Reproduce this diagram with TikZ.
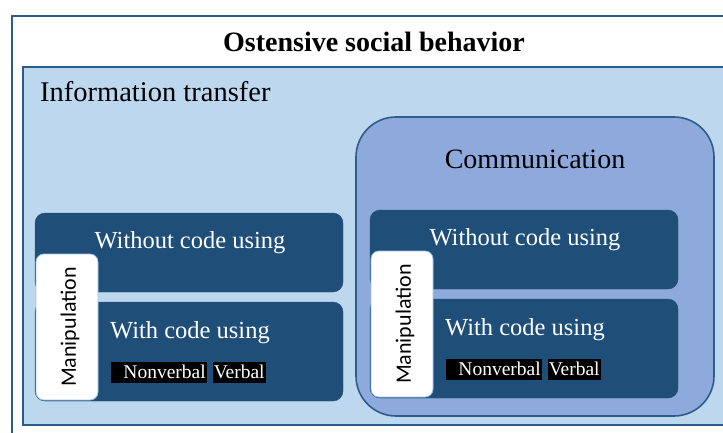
\documentclass[tikz,border=0pt]{standalone}
\usepackage{fontspec}
\setmainfont{Liberation Serif}
\newfontfamily\manipfont{Carlito}
\usetikzlibrary{positioning}
\definecolor{edgeblue}{HTML}{2E5C8A}
\definecolor{infoblue}{HTML}{BDD7EE}
\definecolor{commblue}{HTML}{8EA9DB}
\definecolor{darkblue}{HTML}{1F4E79}
\definecolor{manipedge}{HTML}{9DC3E6}
\tikzset{
    frame/.style={draw=edgeblue, line width=1.6pt},
    codebox/.style={fill=darkblue, draw=darkblue, rounded corners=10pt},
    manipbox/.style={fill=white, draw=manipedge, line width=0.8pt, rounded corners=8pt},
    boxtext/.style={text=white, inner sep=0pt, font=\fontsize{24.5}{28}\selectfont},
    tag/.style={fill=black, text=white, inner xsep=1pt, inner ysep=0pt, minimum height=21pt, font=\fontsize{19.5}{22}\selectfont},
}

\begin{document}
\begin{tikzpicture}[x=1pt, y=-1pt]
    \useasboundingbox (0,0) rectangle (723,433);
    \clip (0,0) rectangle (723,433);
    % frames
    \draw[frame, fill=white] (12,16) rectangle (760,460);
    \draw[frame, fill=infoblue] (23,67) rectangle (760,425);
    \node[anchor=base, inner sep=0pt, font=\bfseries\fontsize{28}{32}\selectfont] (title) at (374,51.7) {Ostensive social behavior};
    \node[anchor=base west, inner sep=0pt, font=\fontsize{28.5}{32}\selectfont] (info) at (40,101.7) {Information transfer};
    % communication
    \draw[frame, fill=commblue, rounded corners=40pt] (356,117) rectangle (714,416);
    \node[anchor=base, inner sep=0pt, font=\fontsize{28}{32}\selectfont] (comm) at (535,168) {Communication};
    % the two code groups
    \foreach \g/\dx/\dy in {l/0/0, r/335/-3} {
        \begin{scope}[shift={(\dx,\dy)}]
            \draw[codebox] (35,213) rectangle (343,292);
            \draw[codebox] (35,302) rectangle (343,401);
            \draw[manipbox] (36,254) rectangle (98,400);
            \node[boxtext, anchor=base] (without-\g) at (190,248.5) {Without code using};
            \node[boxtext, anchor=base west] (with-\g) at (110,338) {With code using};
            \node[rotate=90, inner sep=0pt, font=\manipfont\fontsize{22}{24}\selectfont] (manip-\g) at (70,327) {Manipulation};
            \node[tag, text width=93.7pt, align=right] (nonverbal-\g) at (158.9,372.2) {Nonverbal};
            \node[tag, right=5.6pt of nonverbal-\g] (verbal-\g) {Verbal};
        \end{scope}
    }
\end{tikzpicture}
\end{document}
